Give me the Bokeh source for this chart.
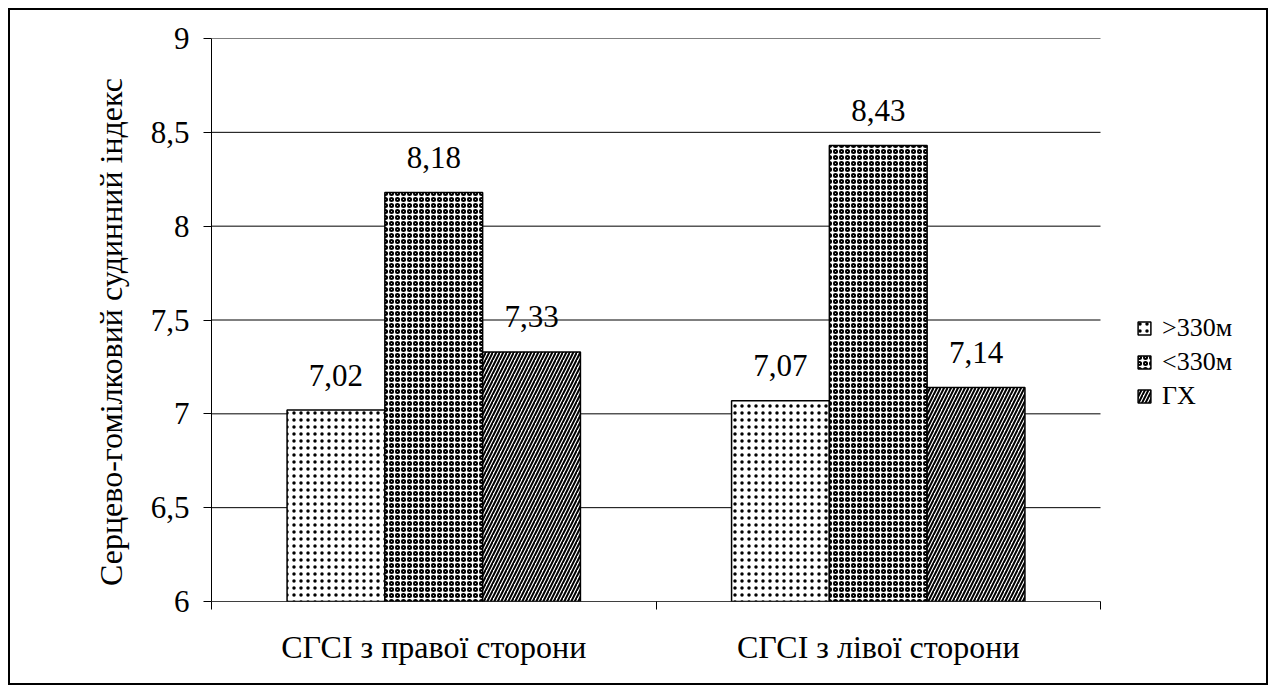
from bokeh.plotting import figure
from bokeh.models import FixedTicker, Legend, LegendItem, ColumnDataSource
from bokeh.core.properties import value
from bokeh.embed import file_html
from bokeh.resources import INLINE

categories = ["СГСІ з правої сторони", "СГСІ з лівої сторони"]
series_names = [">330м", "<330м", "ГХ"]
values_gt330 = [7.02, 7.07]
values_lt330 = [8.18, 8.43]
values_gx = [7.33, 7.14]
y_ticks = [6, 6.5, 7, 7.5, 8, 8.5, 9]
y_tick_labels = ["6", "6,5", "7", "7,5", "8", "8,5", "9"]
y_title = "Серцево-гомілковий судинний індекс"

FONT = "Liberation Serif"

n = len(categories)
# frame spans beyond the category area to hold the legend
extra = 170 / 444.5
p = figure(width=1260, height=677, x_range=(0, n + extra), y_range=(y_ticks[0], y_ticks[-1]),
           output_backend="svg", toolbar_location=None,
           min_border_left=201, min_border_right=0, min_border_top=28, min_border_bottom=86)
p.styles = {"border": "2px solid black", "margin-left": "8px", "margin-top": "8px"}
p.outline_line_color = None
p.background_fill_color = "white"
p.border_fill_color = "white"

p.xgrid.visible = False
p.ygrid.visible = False
# grid lines limited to the category area
p.segment(x0=[0] * len(y_ticks), x1=[n] * len(y_ticks), y0=y_ticks, y1=y_ticks,
          line_color="black", line_width=1)

p.yaxis.ticker = FixedTicker(ticks=y_ticks)
p.yaxis.major_label_overrides = {t: l for t, l in zip(y_ticks, y_tick_labels)}
p.yaxis.major_tick_in = 0
p.yaxis.major_tick_out = 8
p.yaxis.minor_tick_out = 0
p.yaxis.minor_tick_in = 0
p.yaxis.axis_line_color = "black"
p.yaxis.major_label_text_font = FONT
p.yaxis.major_label_text_font_size = "31px"
p.yaxis.major_label_text_color = "black"
p.yaxis.major_label_standoff = 14
p.yaxis.axis_label = y_title + "\u00a0\u00a0\u00a0"
p.yaxis.axis_label_text_font = FONT
p.yaxis.axis_label_text_font_size = "32px"
p.yaxis.axis_label_text_font_style = "normal"
p.yaxis.axis_label_text_color = "black"
p.yaxis.axis_label_standoff = 19

cat_pos = [0.5 + i for i in range(n)]
p.xaxis.ticker = FixedTicker(ticks=cat_pos, minor_ticks=list(range(n + 1)))
p.xaxis.major_label_overrides = {c: nm for c, nm in zip(cat_pos, categories)}
p.xaxis.major_tick_in = 0
p.xaxis.major_tick_out = 0
p.xaxis.minor_tick_in = 0
p.xaxis.minor_tick_out = 8
p.xaxis.axis_line_color = None
p.xaxis.major_label_text_font = FONT
p.xaxis.major_label_text_font_size = "32px"
p.xaxis.major_label_text_color = "black"
p.xaxis.major_label_standoff = 19

bw = 0.22
offsets = [-bw, 0, bw]
series = [values_gt330, values_lt330, values_gx]
hatches = [
    dict(hatch_pattern="dot", hatch_scale=7, hatch_weight=0.5),
    dict(hatch_pattern="ring", hatch_scale=6, hatch_weight=2.0),
    dict(hatch_pattern="right_diagonal_line", hatch_scale=7, hatch_weight=2),
]
items = []
for name, vals, off, h in zip(series_names, series, offsets, hatches):
    xs = [c + off for c in cat_pos]
    src = ColumnDataSource(dict(x=xs, top=vals, label=[f"{v:.2f}".replace(".", ",") for v in vals]))
    r = p.vbar(x="x", top="top", bottom=y_ticks[0], width=bw, source=src,
               fill_color="white", line_color="black", line_width=1.5,
               hatch_color="black", **h)
    p.text(x="x", y="top", text="label", source=src, text_align="center",
           text_baseline="alphabetic", y_offset=-35,
           text_font=value(FONT), text_font_size="31px", text_color="black")
    items.append(LegendItem(label=name, renderers=[r]))

# x axis line limited to the category area
p.segment(x0=[0], x1=[n], y0=[y_ticks[0]], y1=[y_ticks[0]], line_color="black", line_width=1)

legend = Legend(items=items, location=(925, 190), orientation="vertical",
                glyph_width=16, glyph_height=16, label_text_font=FONT,
                label_text_font_size="26px", label_text_color="black",
                label_standoff=10, spacing=4, padding=0, margin=0,
                border_line_color=None, background_fill_alpha=0)
p.add_layout(legend, "center")

open("out.html", "w").write(file_html(p, INLINE))
